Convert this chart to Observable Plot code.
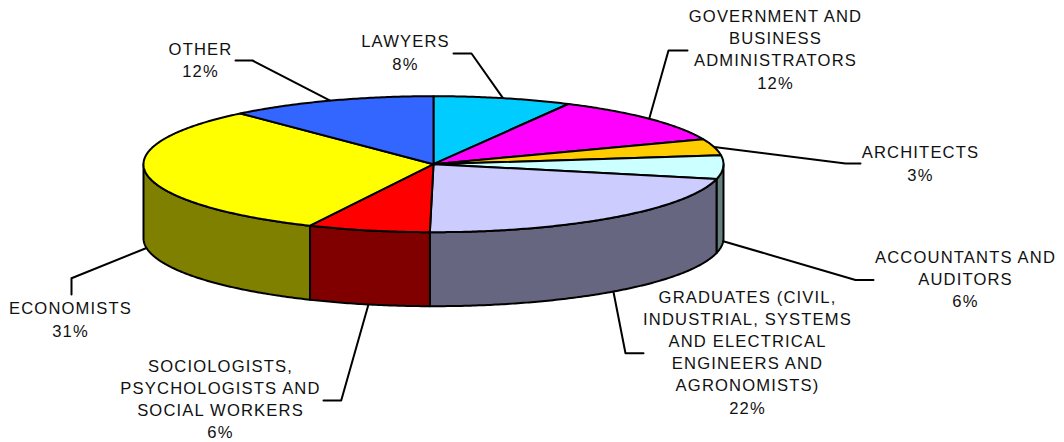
<!DOCTYPE html>
<html>
<head>
<meta charset="utf-8">
<style>html,body{margin:0;padding:0;background:#fff}svg{display:block}</style>
<script src="https://cdn.jsdelivr.net/npm/d3@7"></script>
<script src="https://cdn.jsdelivr.net/npm/@observablehq/plot@0.6"></script>
</head>
<body>
<div id="chart"></div>
<script>
// Data
const categories = ["LAWYERS","GOVERNMENT AND\nBUSINESS\nADMINISTRATORS","ARCHITECTS","ACCOUNTANTS AND\nAUDITORS","GRADUATES (CIVIL,\nINDUSTRIAL, SYSTEMS\nAND ELECTRICAL\nENGINEERS AND\nAGRONOMISTS)","SOCIOLOGISTS,\nPSYCHOLOGISTS AND\nSOCIAL WORKERS","ECONOMISTS","OTHER"];
const shares = [7.7, 11.3, 3.9, 5.6, 21.7, 6.8, 31.4, 11.6];
const percentLabels = ["8%","12%","3%","6%","22%","6%","31%","12%"];

// Styling
const topColors  = ["#00CCFF","#FF00FF","#FFCC00","#CCFFFF","#CCCCFF","#FF0000","#FFFF00","#3366FF"];
const sideColors = ["#006680","#800080","#806600","#668080","#666680","#800000","#808000","#1A3380"];

// Layout (chart units = px): label centre and last-line baseline, leader elbow and end
const labelX = [405, 775, 920, 965, 747, 220, 70, 200];
const labelY = [69, 88, 180, 306.7, 413, 437.7, 336, 76.7];
const elbowX = [471, 668, 845, 855, 625, 340.7, 71, 252];
const elbowY = [53, 50, 163, 279.5, 352.7, 400, 277.7, 60];
const endX   = [453, 687, 860, 873, 643, 323, 71, 235];
const endY   = [53, 50, 163, 279.5, 352.7, 400, 294, 60];

const W = 1064, H = 442;
const cx = 433, cy = 163.7, rx = 290, ry = 68, depth = 74;

const total = d3.sum(shares);
const cumul = d3.cumsum(shares);
const slices = categories.map((c, i) => ({
  i, c,
  a: ((cumul[i] - shares[i]) / total) * 2 * Math.PI,
  b: (cumul[i] / total) * 2 * Math.PI
}));
const rim = (t, drop = 0) => [cx + rx * Math.sin(t), cy - ry * Math.cos(t) + drop];
const arc = (a, b, drop = 0) => {
  const n = Math.max(2, Math.ceil(Math.abs(b - a) / 0.01));
  return d3.range(n + 1).map(k => rim(a + (b - a) * k / n, drop));
};

const wallRows = [], topRows = [], leaderRows = [];
for (const s of slices) {
  const a = Math.max(s.a, Math.PI / 2), b = Math.min(s.b, 3 * Math.PI / 2);
  if (b > a) {
    const pts = [...arc(a, b), ...arc(b, a, depth)];
    pts.push(pts[0]);
    pts.forEach(p => wallRows.push({x: p[0], y: p[1], z: s.i, fill: sideColors[s.i]}));
  }
  const tp = [[cx, cy], ...arc(s.a, s.b), [cx, cy]];
  tp.forEach(p => topRows.push({x: p[0], y: p[1], z: s.i, fill: topColors[s.i]}));
  // leader starts on the visible rim at the slice's mid-angle
  const mid = (s.a + s.b) / 2;
  const front = Math.cos(mid) < 0 || s.i === 3;
  const st = rim(mid, front ? depth : 0);
  [st, [elbowX[s.i], elbowY[s.i]], [endX[s.i], endY[s.i]]]
    .forEach(p => leaderRows.push({x: p[0], y: p[1], z: s.i}));
}

const labels = categories.map((c, i) => ({text: c + "\n" + percentLabels[i], x: labelX[i], y: labelY[i]}));
const fontSize = 16.6;

const chart = Plot.plot({
  width: W, height: H,
  margin: 0,
  x: {domain: [0, W], range: [0, W], axis: null},
  y: {domain: [0, H], range: [0, H], axis: null},
  style: {background: "#fff", fontFamily: "'Liberation Sans', Arial, sans-serif", letterSpacing: "1.15px"},
  marks: [
    Plot.line(leaderRows, {x: "x", y: "y", z: "z", stroke: "#000", strokeWidth: 2, curve: "linear"}),
    Plot.line(wallRows, {x: "x", y: "y", z: "z", fill: {value: "fill", scale: null}, stroke: "#000", strokeWidth: 2, strokeLinejoin: "round", curve: "linear"}),
    Plot.line(topRows, {x: "x", y: "y", z: "z", fill: {value: "fill", scale: null}, stroke: "#000", strokeWidth: 2, strokeLinejoin: "round", curve: "linear"}),
    Plot.text(labels, {x: "x", y: "y", text: "text", textAnchor: "middle", lineAnchor: "bottom", lineHeight: 22.1 / fontSize, fontSize, fill: "#111"})
  ]
});
document.getElementById("chart").appendChild(chart);
</script>
</body>
</html>
